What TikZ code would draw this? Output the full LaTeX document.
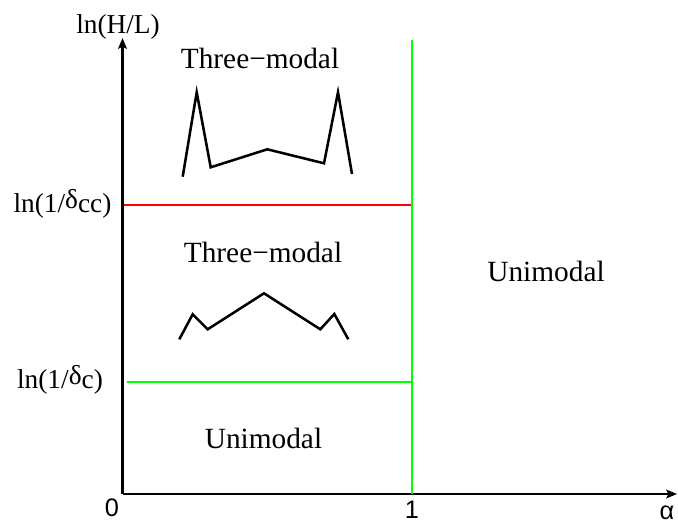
\documentclass[tikz,border=0pt]{standalone}
\usepackage{fontspec}
\setmainfont{Liberation Serif}
\setsansfont{Liberation Sans}
\usetikzlibrary{arrows.meta}

\begin{document}
\begin{tikzpicture}[
  x=0.75pt, y=-0.75pt,
  region/.style={font=\fontsize{22}{26}\selectfont, inner sep=0pt},
  axlbl/.style={font=\fontsize{20.5}{24}\selectfont, inner sep=0pt},
  tick/.style={font=\sffamily\fontsize{19}{22}\selectfont, inner sep=0pt},
  axis/.style={-{Stealth[length=8pt, width=6.5pt, inset=1.5pt]}, line width=1.7pt},
  bound/.style={line width=1.5pt},
  sketch/.style={line width=1.9pt, line join=miter}
]
\useasboundingbox (0,0) rectangle (678,527);

% Axes
\coordinate (O)    at (122.5,494);
\coordinate (ytop) at (122.5,38);
\coordinate (xend) at (677,494);
\draw[axis] (O) -- (ytop);
\draw[axis] (O) -- (xend);

% Boundaries
\coordinate (a1)   at (411.5,494);
\coordinate (a1up) at (411.5,40);
\coordinate (cc0)  at (123.5,205);
\coordinate (cc1)  at (411.5,205);
\coordinate (c0)   at (127,381.5);
\coordinate (c1)   at (411.5,381.5);
\draw[bound, red]   (cc0) -- (cc1);
\draw[bound, green] (c0) -- (c1);
\draw[bound, green] (a1) -- (a1up);

% Axis labels
\node[axlbl] (ylab) at (118,27) {ln(H/L)};
\node[axlbl] (dcc)  at (62.5,204) {ln(1/\raisebox{2.5pt}{δ}cc)};
\node[axlbl] (dc)   at (60,380) {ln(1/\raisebox{2.5pt}{δ}c)};
\node[tick] (t0)    at (112,508) {0};
\node[tick] (t1)    at (412,510) {1};
\node[tick] (alpha) at (667,513) {α};

% Regions
\node[region] (tmtop) at (260,58)  {Three−modal};
\node[region] (tmmid) at (263,252) {Three−modal};
\node[region] (unir)  at (546,271) {Unimodal};
\node[region] (unil)  at (263.5,438) {Unimodal};

% Distribution sketches
\draw[sketch] (182.7,176.7) -- (196.7,92.3) -- (210.7,167.3) -- (267.3,149.3)
  -- (324,163.3) -- (338,92.3) -- (352,174);
\draw[sketch] (179.3,339.3) -- (192.7,314.3) -- (207.7,329.3) -- (264,293.3)
  -- (320.3,329.3) -- (334.3,314) -- (348.3,339.3);
\end{tikzpicture}
\end{document}
